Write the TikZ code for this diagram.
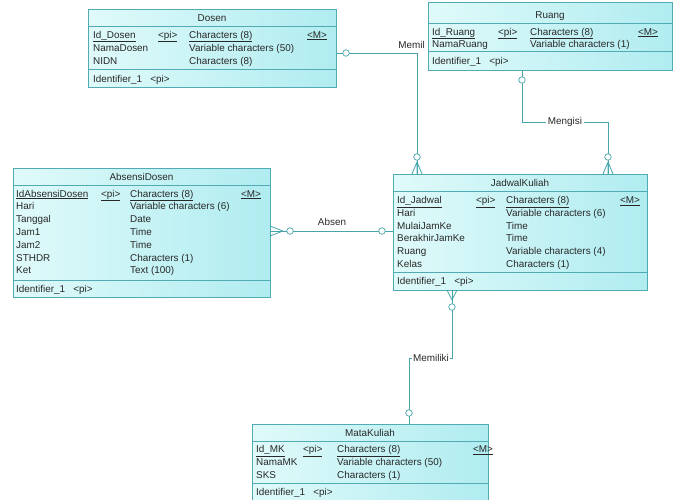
\documentclass[tikz,border=0pt]{standalone}
\usepackage{fontspec}
\setmainfont{Liberation Sans}
\definecolor{bord}{RGB}{80,172,178}
\definecolor{lnk}{RGB}{70,165,170}
\definecolor{fillL}{RGB}{224,250,250}
\definecolor{fillR}{RGB}{176,236,240}
\definecolor{txtc}{RGB}{40,40,40}
\newcommand\fs{\fontsize{9.9}{11}\selectfont}
\begin{document}
\begin{tikzpicture}[x=1pt,y=-1pt,
  entity/.style={draw=bord, line width=0.8pt, left color=fillL, right color=fillR, anchor=north west, inner sep=0},
  divider/.style={draw=bord, line width=0.8pt},
  txt/.style={anchor=base west, inner sep=0, font=\fs, text=txtc},
  ttl/.style={anchor=base, inner sep=0, font=\fs, text=txtc},
  link/.style={draw=lnk, line width=0.8pt},
  ring/.style={circle, draw=lnk, fill=white, line width=0.7pt, minimum size=6.5pt, inner sep=0},
  lbl/.style={inner sep=1pt, font=\fs, text=txtc},
  lblw/.style={fill=white, inner sep=1.5pt, font=\fs, text=txtc}]
\useasboundingbox (0,0) rectangle (679,499);

% ---------- entities ----------
% Dosen
\node[entity, minimum width=248pt, minimum height=78pt] (dosen) at (88,9) {};
\draw[divider] (dosen.west |- 0,26) -- (dosen.east |- 0,26);
\draw[divider] (dosen.west |- 0,69) -- (dosen.east |- 0,69);
\node[ttl] (dosenT) at (212,21) {Dosen};
\node[txt] (dosen1a) at (93,38) {\underline{Id\_Dosen}};
\node[txt] (dosen1b) at (158,38) {\underline{<pi>}};
\node[txt] (dosen1c) at (189,38) {\underline{Characters (8)}};
\node[txt] (dosen1d) at (307,38) {\underline{<M>}};
\node[txt] (dosen2a) at (93,51) {NamaDosen};
\node[txt] (dosen2c) at (189,51) {Variable characters (50)};
\node[txt] (dosen3a) at (93,64) {NIDN};
\node[txt] (dosen3c) at (189,64) {Characters (8)};
\node[txt] (dosenI) at (93,82) {Identifier\_1\ \ \ <pi>};

% Ruang
\node[entity, minimum width=244pt, minimum height=68pt] (ruang) at (428,2) {};
\draw[divider] (ruang.west |- 0,23) -- (ruang.east |- 0,23);
\draw[divider] (ruang.west |- 0,51) -- (ruang.east |- 0,51);
\node[ttl] (ruangT) at (550,18) {Ruang};
\node[txt] (ruang1a) at (432,35) {\underline{Id\_Ruang}};
\node[txt] (ruang1b) at (498,35) {\underline{<pi>}};
\node[txt] (ruang1c) at (530,35) {\underline{Characters (8)}};
\node[txt] (ruang1d) at (638,35) {\underline{<M>}};
\node[txt] (ruang2a) at (432,47) {NamaRuang};
\node[txt] (ruang2c) at (530,47) {Variable characters (1)};
\node[txt] (ruangI) at (432,64) {Identifier\_1\ \ \ <pi>};

% AbsensiDosen
\node[entity, minimum width=257pt, minimum height=129pt] (absensi) at (13,168) {};
\draw[divider] (absensi.west |- 0,185) -- (absensi.east |- 0,185);
\draw[divider] (absensi.west |- 0,280) -- (absensi.east |- 0,280);
\node[ttl] (absT) at (141.5,180) {AbsensiDosen};
\node[txt] (abs1a) at (16,197) {\underline{IdAbsensiDosen}};
\node[txt] (abs1b) at (101,197) {\underline{<pi>}};
\node[txt] (abs1c) at (130,197) {\underline{Characters (8)}};
\node[txt] (abs1d) at (241,197) {\underline{<M>}};
\node[txt] (abs2a) at (16,209.8) {Hari};
\node[txt] (abs2c) at (130,209.8) {Variable characters (6)};
\node[txt] (abs3a) at (16,222.6) {Tanggal};
\node[txt] (abs3c) at (130,222.6) {Date};
\node[txt] (abs4a) at (16,235.4) {Jam1};
\node[txt] (abs4c) at (130,235.4) {Time};
\node[txt] (abs5a) at (16,248.2) {Jam2};
\node[txt] (abs5c) at (130,248.2) {Time};
\node[txt] (abs6a) at (16,261) {STHDR};
\node[txt] (abs6c) at (130,261) {Characters (1)};
\node[txt] (abs7a) at (16,273.8) {Ket};
\node[txt] (abs7c) at (130,273.8) {Text (100)};
\node[txt] (absI) at (16,292.5) {Identifier\_1\ \ \ <pi>};

% JadwalKuliah
\node[entity, minimum width=254pt, minimum height=116pt] (jadwal) at (393,174) {};
\draw[divider] (jadwal.west |- 0,191) -- (jadwal.east |- 0,191);
\draw[divider] (jadwal.west |- 0,272) -- (jadwal.east |- 0,272);
\node[ttl] (jadT) at (520,186) {JadwalKuliah};
\node[txt] (jad1a) at (397,203.5) {\underline{Id\_Jadwal}};
\node[txt] (jad1b) at (476,203.5) {\underline{<pi>}};
\node[txt] (jad1c) at (506,203.5) {\underline{Characters (8)}};
\node[txt] (jad1d) at (620,203.5) {\underline{<M>}};
\node[txt] (jad2a) at (397,216.3) {Hari};
\node[txt] (jad2c) at (506,216.3) {Variable characters (6)};
\node[txt] (jad3a) at (397,229.1) {MulaiJamKe};
\node[txt] (jad3c) at (506,229.1) {Time};
\node[txt] (jad4a) at (397,241.9) {BerakhirJamKe};
\node[txt] (jad4c) at (506,241.9) {Time};
\node[txt] (jad5a) at (397,254.7) {Ruang};
\node[txt] (jad5c) at (506,254.7) {Variable characters (4)};
\node[txt] (jad6a) at (397,267.5) {Kelas};
\node[txt] (jad6c) at (506,267.5) {Characters (1)};
\node[txt] (jadI) at (397,284.5) {Identifier\_1\ \ \ <pi>};

% MataKuliah
\node[entity, minimum width=236pt, minimum height=78pt] (mk) at (252,424) {};
\draw[divider] (mk.west |- 0,441) -- (mk.east |- 0,441);
\draw[divider] (mk.west |- 0,483) -- (mk.east |- 0,483);
\node[ttl] (mkT) at (370,436) {MataKuliah};
\node[txt] (mk1a) at (256,452.5) {\underline{Id\_MK}};
\node[txt] (mk1b) at (303,452.5) {\underline{<pi>}};
\node[txt] (mk1c) at (337,452.5) {\underline{Characters (8)}};
\node[txt] (mk1d) at (473,452.5) {\underline{<M>}};
\node[txt] (mk2a) at (256,465.5) {NamaMK};
\node[txt] (mk2c) at (337,465.5) {Variable characters (50)};
\node[txt] (mk3a) at (256,478) {SKS};
\node[txt] (mk3c) at (337,478) {Characters (1)};
\node[txt] (mkI) at (256,495.5) {Identifier\_1\ \ \ <pi>};

% ---------- connectors ----------
% Dosen - JadwalKuliah
\coordinate (cM) at (417,53);
\draw[link] (dosen.east |- cM) -- (cM) -- (cM |- jadwal.north);
\draw[link] (417,162) -- (412,174) (417,162) -- (417,174) (417,162) -- (422,174);
\node[ring] (r1) at (346,53) {};
\node[ring] (r2) at (417,157) {};
\node[lbl, anchor=base east] (lMemil) at (426,48.5) {Memil};

% Ruang - JadwalKuliah
\coordinate (m1) at (522,122);
\coordinate (m2) at (608,122);
\draw[link] (ruang.south -| m1) -- (m1) -- (m2) -- (m2 |- jadwal.north);
\draw[link] (608,162) -- (603,174) (608,162) -- (608,174) (608,162) -- (613,174);
\node[ring] (r3) at (522,80) {};
\node[ring] (r4) at (608,157) {};
\node[lblw] (lMengisi) at (565,122) {Mengisi};

% AbsensiDosen - JadwalKuliah
\coordinate (a1) at (0,231);
\draw[link] (absensi.east |- a1) -- (jadwal.west |- a1);
\draw[link] (283,231) -- (270,226) (283,231) -- (270,236);
\node[ring] (r5) at (290,231) {};
\node[ring] (r6) at (382,231) {};
\node[lbl] (lAbsen) at (332,222) {Absen};

% JadwalKuliah - MataKuliah
\coordinate (k1) at (452,358);
\coordinate (k2) at (409,358);
\draw[link] (jadwal.south -| k1) -- (k1) -- (k2) -- (k2 |- mk.north);
\draw[link] (452,300) -- (447,290) (452,300) -- (457,290);
\node[ring] (r7) at (452,307) {};
\node[ring] (r8) at (409,413) {};
\node[lblw] (lMemiliki) at (431,358) {Memiliki};
\end{tikzpicture}
\end{document}
